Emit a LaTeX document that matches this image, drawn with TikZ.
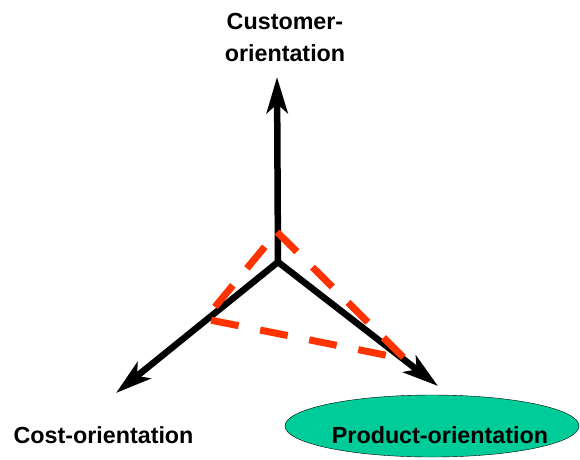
\documentclass[tikz,border=0pt]{standalone}
\usepackage{fontspec}
\setmainfont{Liberation Sans}
\usetikzlibrary{arrows.meta}
\definecolor{dashred}{RGB}{255,51,0}
\definecolor{ovalgreen}{RGB}{0,204,153}
\begin{document}
\begin{tikzpicture}[x=1pt,y=-1pt,line join=miter,>={Stealth[length=36pt,width=21pt,inset=9pt]}]
	\tikzset{every node/.style={font=\bfseries\fontsize{23.3}{32}\selectfont,inner sep=0pt},
		axis/.style={line width=6.5pt,->},
		triangle/.style={line width=7pt,dashred,dash pattern=on 28pt off 22pt}}
	\useasboundingbox (0,0) rectangle (580,459);
	% oval behind the product label
	\draw[thin,fill=ovalgreen] (432,426) ellipse (147 and 31);
	% the three orientations
	\coordinate (O) at (278,262);
	\coordinate (cust) at (277,77);
	\coordinate (cost) at (116,393);
	\coordinate (prod) at (438,386);
	\draw[axis] (O)--(cust);
	\draw[axis] (O)--(cost);
	\draw[axis] (O)--(prod);
	% dashed triangle across the axes
	\coordinate (t1) at (277,232);
	\coordinate (t2) at (405,359);
	\coordinate (t3) at (205,319);
	\draw[triangle] (t1)--(t2)--(t3)--cycle;
	\node[align=center,anchor=south] (custlbl) at (285,62) {Customer-\\orientation};
	\node[anchor=base] (costlbl) at (103.5,443) {Cost-orientation};
	\node[anchor=base] (prodlbl) at (440,443) {Product-orientation};
\end{tikzpicture}
\end{document}
